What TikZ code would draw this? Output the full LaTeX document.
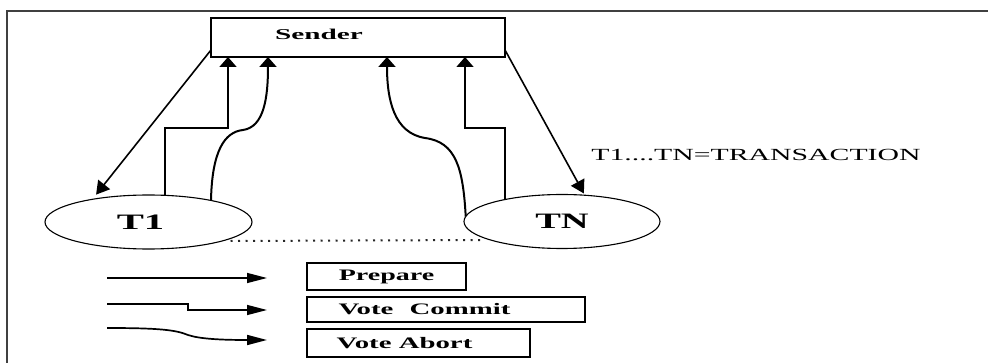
\documentclass[tikz,border=0pt]{standalone}
\usepackage{fontspec}
\setmainfont{Liberation Serif}
\usepackage{graphicx}
\usetikzlibrary{shapes.geometric,arrows.meta,calc}

% horizontally widened text
\newcommand\widetext[2]{\scalebox{#1}[1]{#2}}

\begin{document}
\begin{tikzpicture}[x=1pt,y=-1pt,
  conn/.style={line width=1.6pt, black},
  curvy/.style={line width=2pt, black},
  uptip/.style={-{Triangle[length=10pt,width=17pt]}},
  diagtip/.style={-{Triangle[length=13pt,width=15pt]}},
  legtip/.style={-{Triangle[length=20pt,width=10pt]}},
  framel/.style={line width=1.8pt, black!75},
  boxnode/.style={draw, line width=1.4pt, rectangle, outer sep=0pt, inner sep=0pt},
  txnode/.style={draw, line width=1.1pt, ellipse, outer sep=0pt, inner sep=0pt,
                 minimum height=54pt, font=\fontsize{22}{24}\selectfont\bfseries},
  legfont/.style={font=\fontsize{16}{18}\selectfont\bfseries},
  dotline/.style={line width=2pt, black!85, dash pattern=on 2pt off 5.5pt}
]
\useasboundingbox (0,0) rectangle (988,363);

% outer frame (left and top edges)
\coordinate (fa) at (7,363);
\coordinate (fb) at (7,11);
\coordinate (fc) at (988,11);
\draw[framel] (fa) -- (fb) -- (fc);

% coordinator
\node[boxnode, minimum width=294pt, minimum height=39pt,
      font=\fontsize{15}{17}\selectfont\bfseries] (sender) at (358,37.5)
  {\hspace*{-78pt}\raisebox{7pt}{\widetext{1.95}{Sender}}};

% transactions
\node[txnode, minimum width=207pt] (t1) at (148.5,222)
  {\hspace*{-16pt}\widetext{1.85}{T1}};
\node[txnode, minimum width=196pt] (tn) at (562,221.5)
  {\widetext{1.75}{TN}};

\node[font=\fontsize{17}{19}\selectfont, inner sep=0pt] (note) at (756,155)
  {\widetext{1.75}{T1....TN=TRANSACTION}};

% prepare messages
\draw[conn, diagtip, shorten >=6pt] ([yshift=7pt]sender.south west) -- (t1.158);
\draw[conn, diagtip, shorten >=2pt] ([yshift=7pt]sender.south east) -- (tn.49);

% vote commit replies
\coordinate (ts1) at (228,128);
\coordinate (ts2) at (465,128);
\draw[conn, uptip] (t1.58) |- (ts1) -- (sender.south -| ts1);
\draw[conn, uptip] (tn.159) |- (ts2) -- (sender.south -| ts2);

% vote abort replies
\coordinate (ab1) at (243,130);
\coordinate (ab1top) at (268,60);
\draw[curvy, uptip] (t1.19) .. controls (212,152) and (224,132) .. (ab1)
  .. controls (264,127) and (268,98) .. (sender.south -| ab1top);
\coordinate (ab2) at (425,138);
\coordinate (ab2top) at (387,60);
\draw[curvy, uptip] (tn.177) .. controls (463,168) and (456,142) .. (ab2)
  .. controls (394,133) and (387,100) .. (sender.south -| ab2top);

% further transactions
\draw[dotline] ($(t1.center)+(82,19)$) -- ($(tn.center)+(-77,18.5)$);

% legend
\coordinate (pa) at (107,278);
\coordinate (pb) at (267,278);
\draw[conn, line width=1.4pt, legtip] (pa) -- (pb);
\node[boxnode, legfont, minimum width=159pt, minimum height=27pt] (prep) at (386.5,276.5)
  {\widetext{1.75}{Prepare}};

\coordinate (ca) at (107,304);
\coordinate (cb) at (267,310);
\draw[conn, line width=1.4pt, legtip] (ca) -- ++(81,0) |- (cb);
\node[boxnode, legfont, minimum width=278pt, minimum height=25pt] (vcommit) at (446,309.5)
  {\hspace*{-43pt}\widetext{1.8}{Vote\hspace{9pt}Commit}};

\coordinate (aa) at (107,328);
\coordinate (ab) at (267,340);
\draw[curvy, line width=1.7pt, legtip] (aa) .. controls (160,328) and (176,330) .. (188,335)
  .. controls (200,339) and (222,340) .. (ab);
\node[boxnode, legfont, minimum width=223pt, minimum height=28pt] (vabort) at (418.5,343)
  {\hspace*{-28pt}\widetext{1.8}{Vote Abort}};
\end{tikzpicture}
\end{document}
